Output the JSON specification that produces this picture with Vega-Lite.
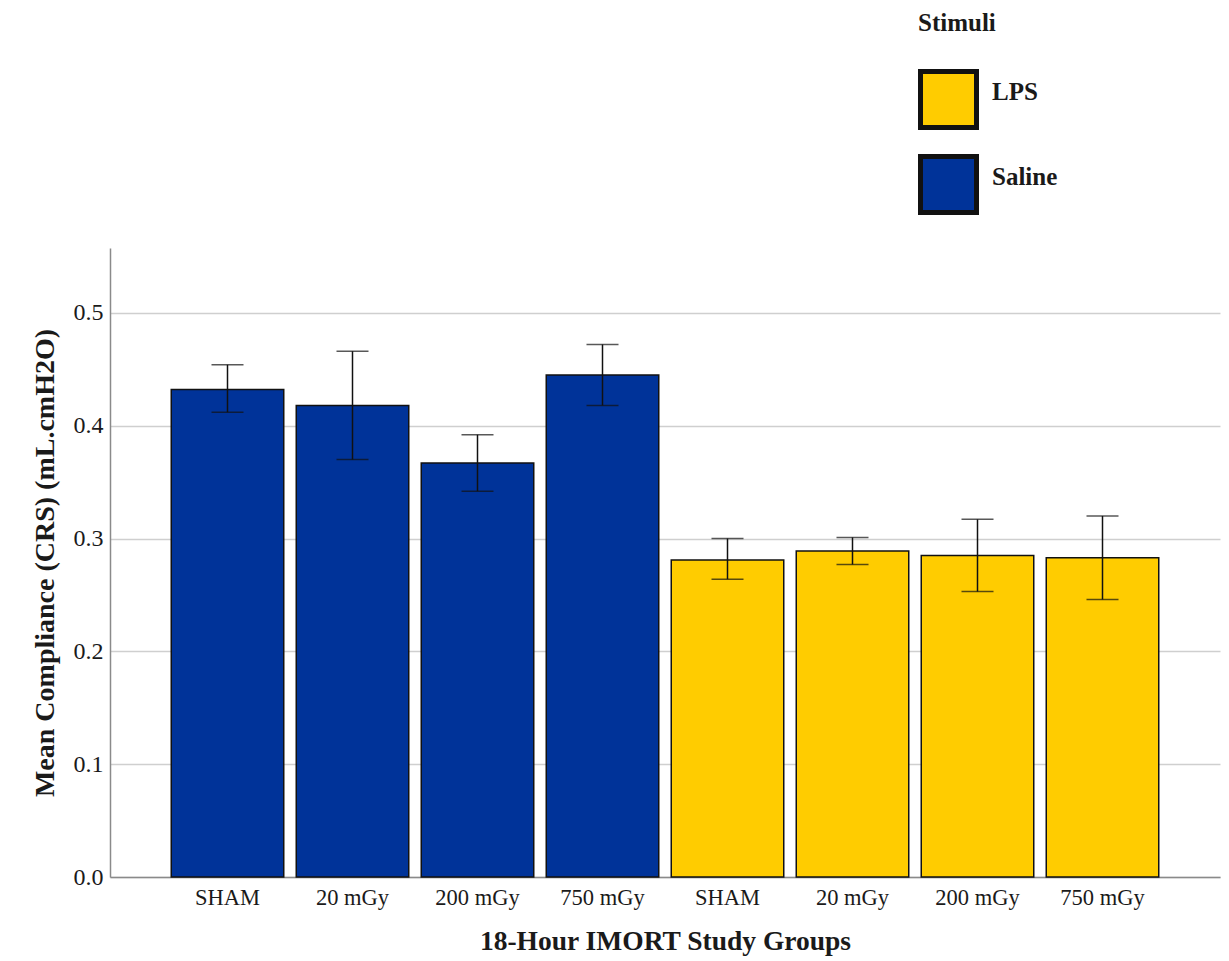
{
  "$schema": "https://vega.github.io/schema/vega-lite/v6.json",
  "width": 1110,
  "height": 629,
  "autosize": {"type": "none"},
  "padding": {"left": 110, "top": 248, "right": 9, "bottom": 84},
  "background": "white",
  "config": {
    "view": {"stroke": null},
    "font": "Liberation Serif",
    "axis": {
      "labelFont": "Liberation Serif",
      "titleFont": "Liberation Serif",
      "labelColor": "#1a1a1a",
      "titleColor": "#1a1a1a",
      "domainColor": "#8a8a8a",
      "domainWidth": 1.5,
      "ticks": false
    }
  },
  "data": {
    "values": [
      {"key": "Saline|SHAM", "Stimuli": "Saline", "mean": 0.432, "lo": 0.412, "hi": 0.454},
      {"key": "Saline|20 mGy", "Stimuli": "Saline", "mean": 0.418, "lo": 0.370, "hi": 0.466},
      {"key": "Saline|200 mGy", "Stimuli": "Saline", "mean": 0.367, "lo": 0.342, "hi": 0.392},
      {"key": "Saline|750 mGy", "Stimuli": "Saline", "mean": 0.445, "lo": 0.418, "hi": 0.472},
      {"key": "LPS|SHAM", "Stimuli": "LPS", "mean": 0.281, "lo": 0.264, "hi": 0.300},
      {"key": "LPS|20 mGy", "Stimuli": "LPS", "mean": 0.289, "lo": 0.277, "hi": 0.301},
      {"key": "LPS|200 mGy", "Stimuli": "LPS", "mean": 0.285, "lo": 0.253, "hi": 0.317},
      {"key": "LPS|750 mGy", "Stimuli": "LPS", "mean": 0.283, "lo": 0.246, "hi": 0.320}
    ]
  },
  "encoding": {
    "x": {
      "field": "key",
      "type": "nominal",
      "sort": ["Saline|SHAM", "Saline|20 mGy", "Saline|200 mGy", "Saline|750 mGy", "LPS|SHAM", "LPS|20 mGy", "LPS|200 mGy", "LPS|750 mGy"],
      "scale": {"paddingInner": 0.1, "paddingOuter": 0.49},
      "title": "18-Hour IMORT Study Groups",
      "axis": {
        "labelExpr": "split(datum.label, '|')[1]",
        "labelAngle": 0,
        "labelFontSize": 22.5,
        "labelPadding": 9,
        "titleFontSize": 27.5,
        "titleFontWeight": "bold",
        "titlePadding": 19,
        "grid": false
      }
    }
  },
  "layer": [
    {
      "mark": {"type": "bar", "stroke": "#111111", "strokeWidth": 1.5},
      "encoding": {
        "y": {
          "field": "mean",
          "type": "quantitative",
          "scale": {"domain": [0, 0.5575], "nice": false},
          "title": "Mean Compliance (CRS) (mL.cmH2O)",
          "axis": {
            "values": [0, 0.1, 0.2, 0.3, 0.4, 0.5],
            "format": ".1f",
            "labelFontSize": 24,
            "labelPadding": 7,
            "titleFontSize": 28,
            "titleFontWeight": "bold",
            "titlePadding": 14,
            "grid": true,
            "gridColor": "#cfcfcf",
            "gridWidth": 1.5
          }
        },
        "color": {
          "field": "Stimuli",
          "type": "nominal",
          "scale": {"domain": ["LPS", "Saline"], "range": ["#FFCC00", "#003399"]},
          "legend": {
            "orient": "none",
            "legendX": 808,
            "legendY": -237,
            "title": "Stimuli",
            "titleFont": "Liberation Serif",
            "titleFontSize": 25,
            "titleFontWeight": "bold",
            "titleColor": "#1a1a1a",
            "titlePadding": 33,
            "symbolType": "square",
            "symbolSize": 3136,
            "symbolStrokeWidth": 5,
            "symbolStrokeColor": "#111111",
            "symbolOpacity": 1,
            "labelFont": "Liberation Serif",
            "labelFontSize": 25,
            "labelFontWeight": "bold",
            "labelColor": "#1a1a1a",
            "labelBaseline": "alphabetic",
            "labelOffset": 13,
            "rowPadding": 8
          }
        }
      }
    },
    {
      "mark": {"type": "rule", "color": "#111111", "strokeWidth": 1.5},
      "encoding": {
        "y": {"field": "lo", "type": "quantitative"},
        "y2": {"field": "hi"}
      }
    },
    {
      "mark": {"type": "tick", "color": "#111111", "thickness": 1.5, "size": 32},
      "encoding": {"y": {"field": "lo", "type": "quantitative"}}
    },
    {
      "mark": {"type": "tick", "color": "#111111", "thickness": 1.5, "size": 32},
      "encoding": {"y": {"field": "hi", "type": "quantitative"}}
    }
  ]
}
